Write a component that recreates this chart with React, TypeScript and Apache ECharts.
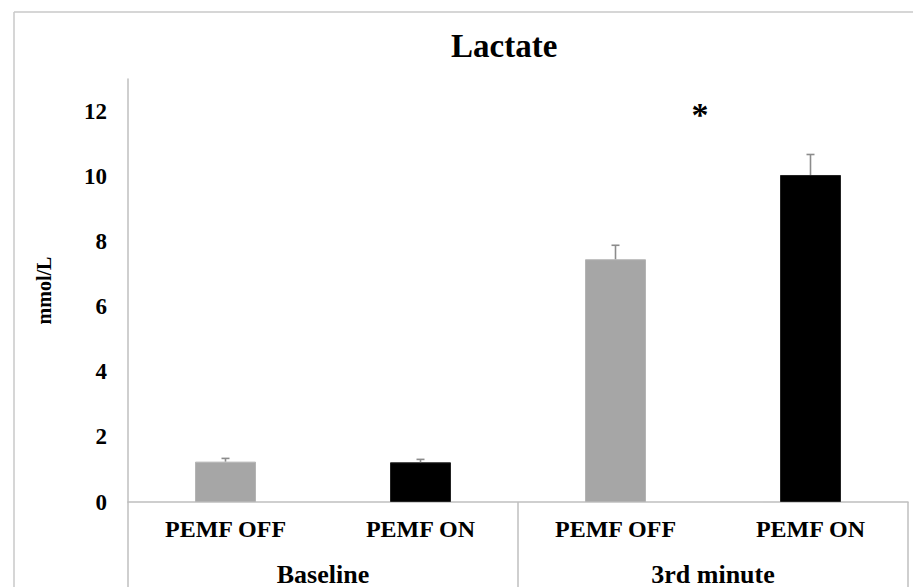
import React, { useEffect, useRef } from "react";
import * as echarts from "echarts";

const conditions = ["PEMF OFF", "PEMF ON", "PEMF OFF", "PEMF ON"];
const groups = ["Baseline", "3rd minute"];
const means = [1.24, 1.22, 7.46, 10.05];
const errors = [0.1, 0.09, 0.43, 0.63];
const barColors = ["#A6A6A6", "#000000", "#A6A6A6", "#000000"];
const yTicks = [0, 2, 4, 6, 8, 10, 12];

const FONT = '"Liberation Serif", "Times New Roman", serif';
const AXIS_GRAY = "#BFBFBF";

export default function App() {
  const ref = useRef<HTMLDivElement>(null);

  useEffect(() => {
    if (!ref.current) return;
    const chart = echarts.init(ref.current, undefined, { renderer: "svg" });
    const errData = means.map((m, i) => [i, m, errors[i]]);
    chart.setOption({
      animation: false,
      backgroundColor: "#ffffff",
      title: {
        text: "Lactate",
        left: 446,
        top: 24,
        textStyle: { fontFamily: FONT, fontWeight: "bold", fontSize: 33, color: "#000" },
      },
      grid: { left: 128, right: 5, top: 79, bottom: 85, containLabel: false },
      xAxis: [
        {
          type: "category",
          data: conditions,
          position: "bottom",
          axisLine: { show: true, lineStyle: { color: AXIS_GRAY, width: 1.5 } },
          axisTick: { show: false },
          axisLabel: {
            interval: 0,
            margin: 15,
            fontFamily: FONT,
            fontWeight: "bold",
            fontSize: 24,
            color: "#000",
          },
        },
        {
          type: "category",
          data: groups,
          position: "bottom",
          offset: 0,
          axisLine: { show: false },
          axisTick: { show: true, length: 90, interval: 0, lineStyle: { color: AXIS_GRAY, width: 1.5 } },
          axisLabel: {
            interval: 0,
            margin: 59,
            fontFamily: FONT,
            fontWeight: "bold",
            fontSize: 26,
            color: "#000",
          },
        },
      ],
      yAxis: {
        type: "value",
        min: 0,
        max: 13,
        interval: 2,
        name: "mmol/L",
        nameLocation: "middle",
        nameGap: 74,
        nameTextStyle: { fontFamily: FONT, fontWeight: "bold", fontSize: 20, color: "#000" },
        axisLine: { show: true, lineStyle: { color: AXIS_GRAY, width: 1.5 } },
        axisTick: { show: false },
        splitLine: { show: false },
        axisLabel: {
          showMaxLabel: false,
          margin: 21,
          fontFamily: FONT,
          fontWeight: "bold",
          fontSize: 23,
          color: "#000",
          formatter: (v: number) => (yTicks.includes(v) ? String(v) : ""),
        },
      },
      series: [
        {
          type: "bar",
          xAxisIndex: 0,
          barWidth: 61,
          data: means.map((m, i) => ({
            value: m,
            itemStyle: { color: barColors[i], borderColor: i % 2 === 0 ? "#B4B4B4" : "#222", borderWidth: 1 },
          })),
        },
        {
          type: "custom",
          xAxisIndex: 0,
          data: errData,
          z: 5,
          renderItem: (params: any, api: any) => {
            const x = api.value(0);
            const v = api.value(1);
            const e = api.value(2);
            const p0 = api.coord([x, v]);
            const p1 = api.coord([x, v + e]);
            const style = { stroke: "#8C8C8C", lineWidth: 1.6 };
            return {
              type: "group",
              children: [
                { type: "line", shape: { x1: p0[0], y1: p0[1], x2: p1[0], y2: p1[1] }, style },
                { type: "line", shape: { x1: p1[0] - 4, y1: p1[1], x2: p1[0] + 4, y2: p1[1] }, style },
              ],
            };
          },
        },
      ],
      graphic: [
        { type: "line", shape: { x1: 14, y1: 12, x2: 913, y2: 12 }, style: { stroke: "#C8C8C8", lineWidth: 1.5 } },
        { type: "line", shape: { x1: 14, y1: 12, x2: 14, y2: 587 }, style: { stroke: "#C8C8C8", lineWidth: 1.5 } },
        {
          type: "text",
          x: 700,
          y: 114,
          style: {
            text: "*",
            font: `bold 34px ${FONT}`,
            fill: "#000",
            textAlign: "center",
            textVerticalAlign: "middle",
          },
        },
      ],
    });
    return () => chart.dispose();
  }, []);

  return (
    <div
      ref={ref}
      style={{ position: "absolute", left: 0, top: 0, width: 913, height: 587, background: "#fff" }}
    />
  );
}
